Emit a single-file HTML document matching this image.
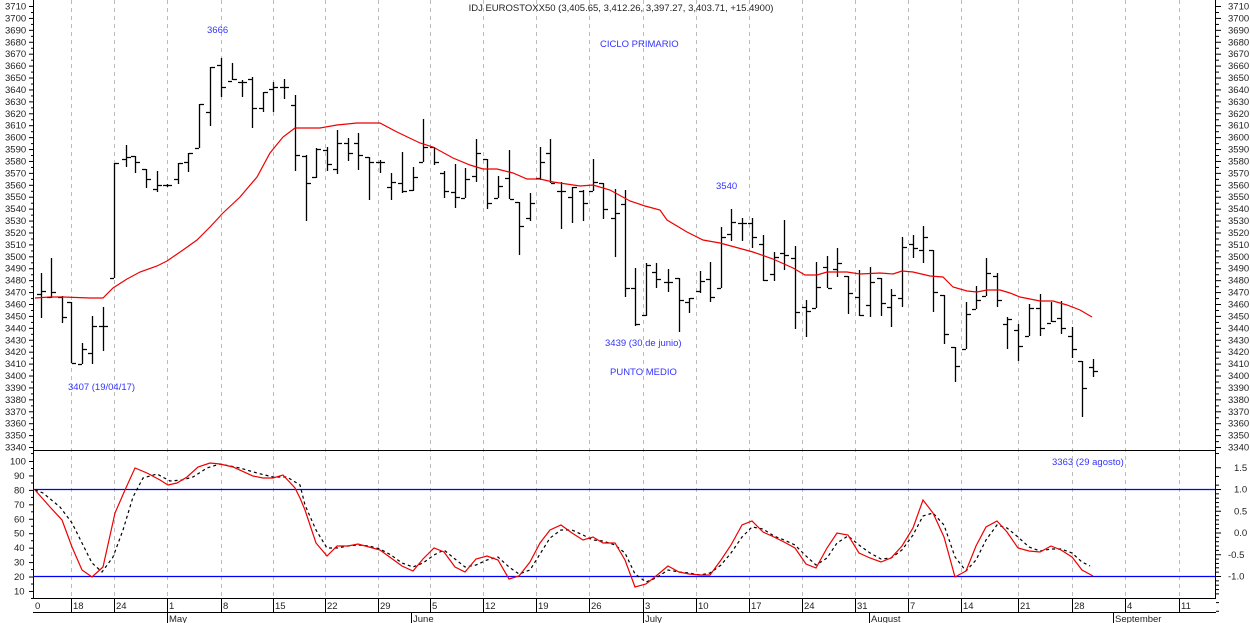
<!DOCTYPE html>
<html><head><meta charset="utf-8"><style>
html,body{margin:0;padding:0;background:#fff;}
svg{display:block;font-family:"Liberation Sans",sans-serif;}
</style></head><body>
<svg id="s" width="1250" height="623" viewBox="0 0 1250 623" xmlns="http://www.w3.org/2000/svg"></svg>
<script>
const S=document.getElementById('s');let h='';
const grid=[71,114,167,221,273,325,378,430,483,536,589,643,696,749,802,855,908,961,1018,1072,1125,1179];
const glab=['18','24','1','8','15','22','29','5','12','19','26','3','10','17','24','31','7','14','21','28','4','11'];
grid.forEach(x=>h+=`<line x1="${x+.5}" y1="0" x2="${x+.5}" y2="598" stroke="#bbb" stroke-dasharray="4,4"/>`);
// axes
h+=`<line x1="33.5" y1="0" x2="33.5" y2="598" stroke="#000"/><line x1="1215.5" y1="0" x2="1215.5" y2="598" stroke="#000"/>`;
h+=`<line x1="33" y1="450.5" x2="1216" y2="450.5" stroke="#000"/>`;
h+=`<line x1="33" y1="598.5" x2="1216" y2="598.5" stroke="#000"/><line x1="33" y1="612.5" x2="1216" y2="612.5" stroke="#000"/>`;
// price labels
for(let p=3710;p>=3340;p-=10){const y=6+(3710-p)*1.192;
h+=`<text x="5" y="${y+3.5}" font-size="9.5" fill="#222">${p}</text><text x="1228" y="${y+3.5}" font-size="9.5" fill="#222">${p}</text>`;
h+=`<line x1="29" y1="${y+.5}" x2="33" y2="${y+.5}" stroke="#000"/><line x1="1216" y1="${y+.5}" x2="1221" y2="${y+.5}" stroke="#000"/>`;
h+=`<line x1="31" y1="${y+6.5}" x2="33" y2="${y+6.5}" stroke="#000"/><line x1="1216" y1="${y+6.5}" x2="1219" y2="${y+6.5}" stroke="#000"/>`;}
// lower labels
for(let v=100;v>=10;v-=10){const y=461+(100-v)*1.444;
h+=`<text x="${v==100?10:14}" y="${y+3.5}" font-size="9.5" fill="#222">${v}</text><line x1="29" y1="${y+.5}" x2="33" y2="${y+.5}" stroke="#000"/><line x1="31" y1="${y+7.5}" x2="33" y2="${y+7.5}" stroke="#000"/>`;}
[['1.5',1.5],['1.0',1],['0.5',.5],['0.0',0],['-0.5',-.5],['-1.0',-1]].forEach(([t,v])=>{const y=532.5-v*43.5;
h+=`<text x="${v<0?1228:1234}" y="${y+3.5}" font-size="9.5" fill="#222">${t}</text><line x1="1216" y1="${y+.5}" x2="1221" y2="${y+.5}" stroke="#000"/>`;
for(let k=1;k<5;k++)h+=`<line x1="1216" y1="${y+k*8.7+.5}" x2="1219" y2="${y+k*8.7+.5}" stroke="#000"/>`;});
h+=`<line x1="33" y1="489.5" x2="1215" y2="489.5" stroke="#00f" stroke-width="1.2"/><line x1="33" y1="576.5" x2="1215" y2="576.5" stroke="#00f" stroke-width="1.2"/>`;
// bottom axis
h+=`<text x="35" y="609" font-size="9.5" fill="#222">0</text>`;
grid.forEach((x,i)=>{h+=`<line x1="${x+.5}" y1="598" x2="${x+.5}" y2="612" stroke="#000"/><text x="${x+2}" y="609" font-size="9.5" fill="#222">${glab[i]}</text>`;});
[[167,'May'],[411,'June'],[643,'July'],[869,'August'],[1113,'September']].forEach(([x,t])=>h+=`<line x1="${x+.5}" y1="612" x2="${x+.5}" y2="623" stroke="#000"/><text x="${x+2}" y="622" font-size="9.5" fill="#222">${t}</text>`);
// bars x,hi,lo,o,c
const B=[[41,273,318,294,291],[51,258,298,297,292],[62,296,323,297,317],[71,302,363,302,363],[82,343,364,364,349],[92,316,364,353,326],[103,307,351,326,326],[114,163,278,278,163],[126,145,167,159,157],[135,156,173,156,162],[146,169,188,169,179],[157,171,192,189,185],[167,184,187,185,185],[178,163,184,179,163],[188,153,172,162,153],[199,104,148,148,104],[210,67,126,112,67],[221,58,97,65,87],[232,63,80,81,79],[242,80,97,82,82],[252,77,128,79,108],[263,92,112,108,92],[273,82,112,89,87],[284,79,99,87,87],[295,95,171,105,155],[306,155,221,156,183],[316,148,178,177,149],[327,147,171,150,164],[337,130,174,169,143],[348,138,161,143,153],[358,133,170,143,155],[369,157,200,157,162],[380,160,173,162,162],[391,173,200,187,182],[402,152,193,183,191],[413,167,191,190,177],[423,119,162,162,147],[434,147,165,147,162],[444,171,198,173,191],[455,164,208,192,197],[465,168,198,198,179],[476,139,182,176,153],[487,159,209,159,203],[498,176,198,198,186],[509,150,199,178,199],[519,202,255,202,226],[530,193,221,218,203],[540,147,180,178,162],[550,139,183,153,183],[561,182,229,191,191],[572,187,223,197,187],[583,190,221,191,203],[593,159,191,191,182],[603,183,219,183,209],[615,189,257,218,213],[625,190,297,204,288],[635,268,326,288,324],[646,263,316,315,265],[656,263,288,272,279],[668,269,292,282,282],[679,278,332,278,300],[689,298,313,302,298],[700,271,293,291,281],[710,262,302,279,297],[721,227,288,288,237],[731,209,241,234,222],[742,218,241,223,223],[752,218,248,223,237],[763,235,281,244,280],[774,252,281,274,257],[784,220,270,253,255],[795,246,329,258,312],[806,300,337,307,311],[816,262,308,308,287],[827,256,288,267,288],[837,248,277,269,263],[848,276,314,276,293],[859,270,316,297,315],[870,267,317,305,282],[881,278,316,278,303],[891,289,327,307,295],[902,237,307,298,247],[913,235,258,244,248],[923,226,263,250,237],[933,250,312,250,292],[944,295,344,295,334],[955,347,382,347,366],[966,302,349,349,314],[976,286,309,309,300],[986,258,296,296,273],[997,273,307,276,300],[1007,317,349,324,319],[1018,324,361,330,346],[1029,304,336,336,308],[1040,294,336,308,328],[1051,302,322,323,321],[1061,301,334,318,328],[1072,327,358,336,349],[1082,361,417,361,388],[1093,359,377,367,371]];
let bp='';B.forEach(([x,hi,lo,o,c])=>{bp+=`M${x+.5} ${hi}V${lo}M${x-4} ${o+.5}H${x}M${x+1} ${c+.5}H${x+5}`;});
h+=`<path d="${bp}" stroke="#000" stroke-width="1.3" fill="none"/>`;
const sma=[[35,298],[50,297],[63,297],[90,298],[103,298],[113,288],[127,279],[140,272],[157,266],[167,261],[183,250],[197,240],[210,227],[223,213],[240,197],[257,177],[270,153],[283,137],[295,128],[320,128],[337,125],[357,123],[380,123],[397,132],[420,143],[433,147],[453,158],[470,165],[483,169],[497,169],[513,173],[527,179],[540,179],[553,182],[580,186],[593,185],[610,190],[630,201],[645,206],[660,210],[667,220],[687,232],[703,240],[720,243],[753,252],[773,259],[793,268],[805,275],[817,275],[827,272],[847,272],[860,274],[880,273],[893,274],[902,271],[913,272],[930,276],[943,277],[953,287],[967,291],[977,292],[987,290],[1000,290],[1010,293],[1020,297],[1040,301],[1053,301],[1067,305],[1080,310],[1092,317]];
h+=`<polyline points="${sma.join(' ')}" fill="none" stroke="#e00" stroke-width="1.2"/>`;
const red=[[35,490],[50,507],[62,520],[72,547],[82,570],[92,577],[103,567],[115,513],[125,490],[135,468],[147,473],[160,480],[168,485],[177,483],[187,477],[198,467],[210,463],[220,464],[233,467],[253,476],[263,478],[273,478],[283,475],[295,488],[300,498],[305,510],[316,543],[327,556],[337,546],[348,546],[358,544],[369,547],[380,550],[391,558],[402,566],[413,571],[423,559],[434,548],[444,552],[455,567],[465,572],[476,559],[487,556],[498,560],[509,579],[519,576],[530,562],[540,543],[550,530],[561,525],[572,533],[583,540],[593,537],[603,543],[615,543],[625,560],[635,587],[646,584],[656,576],[668,566],[679,572],[689,574],[700,575],[710,575],[721,560],[731,545],[742,525],[752,521],[763,532],[774,537],[784,542],[795,548],[806,564],[816,568],[827,548],[837,533],[848,535],[859,553],[870,558],[881,562],[891,558],[902,546],[913,528],[923,500],[933,513],[944,537],[955,577],[966,571],[976,546],[986,527],[997,521],[1007,532],[1018,548],[1029,551],[1040,552],[1051,546],[1061,550],[1072,557],[1082,570],[1093,576]];
const blk=[[35,490],[43,493],[60,507],[72,523],[82,543],[92,563],[102,572],[113,557],[123,530],[133,497],[143,478],[157,474],[170,481],[182,480],[193,477],[207,468],[220,464],[240,468],[257,473],[273,477],[287,477],[300,485],[305,505],[316,530],[327,548],[337,548],[348,546],[358,545],[369,546],[380,549],[391,555],[402,563],[413,567],[423,563],[434,555],[444,550],[455,559],[465,567],[476,565],[487,560],[498,557],[509,567],[519,574],[530,570],[540,554],[550,538],[561,530],[572,530],[583,535],[593,540],[603,541],[615,545],[625,553],[635,574],[646,582],[656,578],[668,570],[679,572],[689,573],[700,575],[710,573],[721,565],[731,553],[742,537],[752,527],[763,529],[774,536],[784,540],[795,545],[806,556],[816,565],[827,558],[837,543],[848,536],[859,545],[870,553],[881,559],[891,558],[902,550],[913,535],[923,516],[933,513],[944,525],[955,557],[966,571],[976,560],[986,540],[997,525],[1007,528],[1018,537],[1029,547],[1040,551],[1051,549],[1061,549],[1072,553],[1082,562],[1090,566]];
h+=`<polyline points="${blk.join(' ')}" fill="none" stroke="#000" stroke-width="1.2" stroke-dasharray="3,3"/>`;
h+=`<polyline points="${red.join(' ')}" fill="none" stroke="#e00" stroke-width="1.2"/>`;
// text
h+=`<text x="621" y="11" font-size="9.5" fill="#222" text-anchor="middle">IDJ EUROSTOXX50 (3,405.65, 3,412.26, 3,397.27, 3,403.71, +15.4900)</text>`;
[[207,33,'3666'],[600,47,'CICLO PRIMARIO'],[716,189,'3540'],[605,346,'3439 (30 de junio)'],[610,375,'PUNTO MEDIO'],[68,390,'3407 (19/04/17)'],[1052,465,'3363 (29 agosto)']].forEach(([x,y,t])=>h+=`<text x="${x}" y="${y}" font-size="9.5" fill="#33f">${t}</text>`);
S.innerHTML=h;
</script>
</body></html>
